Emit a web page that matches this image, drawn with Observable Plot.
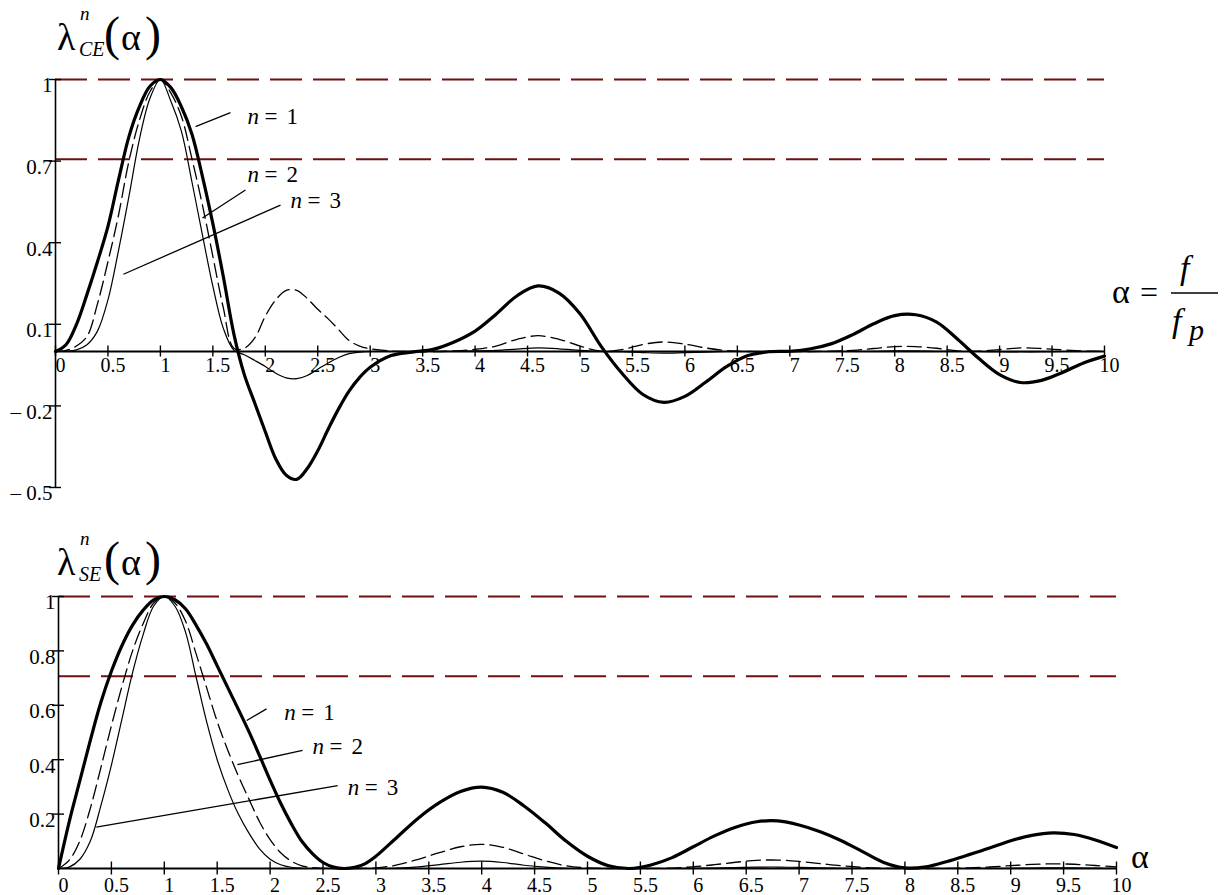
<!DOCTYPE html>
<html><head><meta charset="utf-8">
<script src="https://cdn.jsdelivr.net/npm/d3@7"></script>
<script src="https://cdn.jsdelivr.net/npm/@observablehq/plot@0.6"></script>
<style>
body{margin:0;background:#fff;}
#wrap{position:relative;width:1229px;height:895px;overflow:hidden;background:#fff;}
#wrap > div, #wrap > svg{position:absolute;left:0;}
</style></head><body><div id="wrap"></div>
<script>
// ---------- data ----------
const alpha = [0,0.1,0.2,0.3,0.4,0.5,0.6,0.7,0.8,0.9,1.0,1.1,1.2,1.3,1.4,1.5,1.6,1.7,1.8,1.9,2.0,2.1,2.2,2.3,2.4,2.5,2.6,2.7,2.8,2.9,3.0,
  3.2,3.4,3.6,3.8,4.0,4.2,4.4,4.6,4.8,5.0,5.2,5.4,5.6,5.8,6.0,6.2,6.4,6.6,6.8,7.0,7.2,7.4,7.6,7.8,8.0,8.2,8.4,8.6,8.8,9.0,9.2,9.4,9.6,9.8,10.0];

// top panel: lambda_CE^n(alpha)
const ceN1 = [0,0.025,0.10,0.21,0.33,0.46,0.63,0.79,0.90,0.975,1.0,0.97,0.90,0.80,0.645,0.47,0.275,0.065,-0.085,-0.19,-0.295,-0.395,-0.455,-0.47,-0.43,-0.365,-0.285,-0.21,-0.145,-0.095,-0.058,
  -0.015,-0.002,0.008,0.035,0.075,0.137,0.205,0.241,0.215,0.139,0.02,-0.08,-0.158,-0.187,-0.165,-0.112,-0.055,-0.015,-0.001,0.001,0.01,0.029,0.062,0.102,0.132,0.135,0.108,0.045,-0.025,-0.085,-0.114,-0.106,-0.077,-0.042,-0.017];
const ceN2 = [0,0.004,0.02,0.055,0.175,0.33,0.50,0.70,0.85,0.955,1.0,0.95,0.865,0.71,0.54,0.35,0.16,0.012,0.012,0.05,0.13,0.19,0.225,0.225,0.195,0.155,0.12,0.08,0.04,0.02,0.01,
  0.002,0,0,0.002,0.008,0.02,0.045,0.058,0.045,0.02,0.001,0.007,0.026,0.035,0.027,0.013,0.003,0,0,0,0,0.001,0.004,0.011,0.018,0.018,0.012,0.002,0.001,0.007,0.013,0.011,0.006,0.002,0];
const ceN3 = [0,0.001,0.006,0.025,0.075,0.19,0.37,0.57,0.78,0.93,1.0,0.92,0.81,0.625,0.43,0.24,0.085,0.005,-0.012,-0.033,-0.055,-0.08,-0.097,-0.10,-0.088,-0.065,-0.042,-0.022,-0.008,-0.002,0,
  0,0,0,0.001,0.002,0.004,0.009,0.013,0.01,0.004,0,-0.001,-0.004,-0.006,-0.004,-0.002,0,0,0,0,0,0,0,0.001,0.002,0.002,0.001,0,0,-0.001,-0.001,-0.001,0,0,0];

// bottom panel: lambda_SE^n(alpha)
const seN1 = [0,0.17,0.32,0.47,0.61,0.725,0.82,0.895,0.95,0.988,1.0,0.988,0.955,0.895,0.825,0.745,0.665,0.585,0.503,0.415,0.325,0.24,0.165,0.10,0.055,0.022,0.005,0,0.004,0.018,0.045,
  0.115,0.185,0.242,0.283,0.299,0.28,0.23,0.168,0.10,0.045,0.01,0,0.013,0.04,0.08,0.12,0.152,0.172,0.175,0.16,0.135,0.102,0.062,0.022,0.002,0.006,0.026,0.05,0.075,0.102,0.122,0.131,0.125,0.105,0.077];
const seN2 = [0,0.03,0.10,0.22,0.37,0.525,0.67,0.80,0.90,0.976,1.0,0.976,0.91,0.79,0.665,0.54,0.435,0.34,0.255,0.172,0.106,0.058,0.027,0.01,0.003,0.0005,0,0,0,0.0003,0.002,
  0.013,0.034,0.058,0.08,0.089,0.078,0.053,0.028,0.01,0.002,0,0,0.0002,0.0016,0.0064,0.014,0.023,0.03,0.031,0.026,0.018,0.01,0.004,0.0005,0,0,0.0007,0.0025,0.0056,0.0104,0.015,0.017,0.0156,0.011,0.006];
const seN3 = [0,0.005,0.033,0.10,0.23,0.38,0.55,0.72,0.86,0.965,1.0,0.965,0.87,0.705,0.54,0.40,0.29,0.20,0.13,0.072,0.034,0.014,0.0045,0.001,0,0,0,0,0,0,0,
  0.0015,0.006,0.014,0.023,0.027,0.022,0.012,0.005,0.001,0,0,0,0,0,0.0005,0.0017,0.0035,0.005,0.0054,0.004,0.0025,0.001,0.0002,0,0,0,0,0,0.0004,0.001,0.0018,0.0022,0.002,0.0012,0.0005];

const xTicks = [0,0.5,1,1.5,2,2.5,3,3.5,4,4.5,5,5.5,6,6.5,7,7.5,8,8.5,9,9.5,10];
const ceYTicks = [1,0.7,0.4,0.1,-0.2,-0.5];
const seYTicks = [1,0.8,0.6,0.4,0.2];
const levels = [1,0.707];

// annotation labels (data coordinates)
const labelN = [1,2,3];
const ceLabelA = [1.83,1.83,2.24];
const ceLabelV = [0.862,0.651,0.555];
const ceLeadA1 = [1.668,1.811,2.145], ceLeadV1 = [0.878,0.594,0.538];
const ceLeadA2 = [1.335,1.401,0.648], ceLeadV2 = [0.827,0.491,0.284];
const seLabelA = [2.133,2.40,2.734];
const seLabelV = [0.572,0.449,0.298];
const seLeadA1 = [1.966,2.307,2.639], seLeadV1 = [0.587,0.434,0.305];
const seLeadA2 = [1.779,1.691,0.357], seLeadV2 = [0.544,0.382,0.152];

// ---------- drawing ----------
const serif = "Liberation Serif, Times New Roman, serif";
const refColor = "#6e1010";
const fmtY = d => d < 0 ? "\u2013 " + Math.abs(d) : String(d);

function panel(o){
  const rows = alpha.map((a,i)=>({a, v1:o.s1[i], v2:o.s2[i], v3:o.s3[i]}));
  const idx = [0,1,2];
  return Plot.plot({
    width:1229, height:o.height,
    marginLeft:o.ml, marginRight:o.mr, marginTop:o.mt, marginBottom:o.mb,
    x:{domain:[0,10], axis:null},
    y:{domain:o.yDomain, axis:null},
    style:{fontFamily:serif, fontSize:"19px", background:"transparent", overflow:"visible", color:"black"},
    marks:[
      Plot.ruleY(levels, {stroke:refColor, strokeWidth:2, strokeDasharray:"32,11"}),
      Plot.ruleX([0], {stroke:"black", strokeWidth:1.6}),
      Plot.ruleY([0], {stroke:"black", strokeWidth:1.8}),
      Plot.ruleX(xTicks, {x:d=>d, y1:0, y2:0, insetTop:-o.xt, insetBottom:-o.xt, stroke:"black", strokeWidth:1.4}),
      Plot.ruleY(o.yTicks, {y:d=>d, x1:0, x2:0, insetLeft:-6, insetRight:-6, stroke:"black", strokeWidth:1.4}),
      Plot.text(xTicks, {x:d=>d, y:0, text:d=>String(d), dx:5, dy:o.xdy, lineAnchor:"top", fill:"black", fontSize:20, fontFamily:serif}),
      Plot.text(o.yTicks, {x:0, y:d=>d, text:fmtY, dx:-3, dy:-2, lineAnchor:"top", textAnchor:"end", fill:"black", fontSize:21, fontFamily:serif}),
      Plot.line(rows, {x:"a", y:"v3", curve:"catmull-rom", stroke:"black", strokeWidth:1.2}),
      Plot.line(rows, {x:"a", y:"v2", curve:"catmull-rom", stroke:"black", strokeWidth:1.3, strokeDasharray:"14,6"}),
      Plot.line(rows, {x:"a", y:"v1", curve:"catmull-rom", stroke:"black", strokeWidth:3.2}),
      Plot.link(idx, {x1:i=>o.la1[i], y1:i=>o.lv1[i], x2:i=>o.la2[i], y2:i=>o.lv2[i], stroke:"black", strokeWidth:1.3}),
      Plot.text(idx, {x:i=>o.ta[i], y:i=>o.tv[i], text:()=>"n", fontStyle:"italic", textAnchor:"start", fontSize:23, fill:"black", fontFamily:serif}),
      Plot.text(idx, {x:i=>o.ta[i], y:i=>o.tv[i], text:()=>"=", dx:17, textAnchor:"start", fontSize:23, fill:"black", fontFamily:serif}),
      Plot.text(idx, {x:i=>o.ta[i], y:i=>o.tv[i], text:i=>String(labelN[i]), dx:39, textAnchor:"start", fontSize:23, fill:"black", fontFamily:serif})
    ]
  });
}

const wrap = document.getElementById("wrap");
const top1 = panel({height:500, ml:55, mr:125, mt:79, mb:13, yDomain:[-0.5,1], yTicks:ceYTicks,
  s1:ceN1, s2:ceN2, s3:ceN3, xt:5.5, xdy:6,
  ta:ceLabelA, tv:ceLabelV, la1:ceLeadA1, lv1:ceLeadV1, la2:ceLeadA2, lv2:ceLeadV2});
top1.style.position="absolute"; top1.style.top="0px"; top1.style.left="0px";
wrap.appendChild(top1);

const bot = panel({height:395, ml:58, mr:113, mt:96, mb:27, yDomain:[0,1], yTicks:seYTicks,
  s1:seN1, s2:seN2, s3:seN3, xt:6.5, xdy:9,
  ta:seLabelA, tv:seLabelV, la1:seLeadA1, lv1:seLeadV1, la2:seLeadA2, lv2:seLeadV2});
bot.style.position="absolute"; bot.style.top="500px"; bot.style.left="0px";
wrap.appendChild(bot);

// math labels overlay
const ns = "http://www.w3.org/2000/svg";
const ov = document.createElementNS(ns, "svg");
ov.setAttribute("width", 1229); ov.setAttribute("height", 895);
ov.style.top = "0px"; ov.style.pointerEvents = "none";
function t(x,y,size,str,italic){
  const e = document.createElementNS(ns,"text");
  e.setAttribute("x",x); e.setAttribute("y",y);
  e.setAttribute("font-family",serif);
  e.setAttribute("font-size",size);
  if (italic) e.setAttribute("font-style","italic");
  e.textContent = str; ov.appendChild(e);
}
function title(dy, sub){
  t(57, 50+dy, 38, "\u03bb");
  t(80, 20+dy, 19, "n", true);
  t(79, 56+dy, 20, sub, true);
  t(104, 50+dy, 48, "(");
  t(121, 50+dy, 38, "\u03b1");
  t(145, 50+dy, 48, ")");
}
title(0, "CE");
title(525, "SE");
t(1112, 303, 34, "\u03b1");
t(1140, 303, 32, "=");
t(1180, 279, 34, "f", true);
const bar = document.createElementNS(ns,"line");
bar.setAttribute("x1",1171); bar.setAttribute("x2",1218); bar.setAttribute("y1",293); bar.setAttribute("y2",293);
bar.setAttribute("stroke","black"); bar.setAttribute("stroke-width",1.5); ov.appendChild(bar);
t(1172, 332, 34, "f", true);
t(1189, 340, 30, "p", true);
t(1131, 868, 34, "\u03b1");
wrap.appendChild(ov);
</script></body></html>
